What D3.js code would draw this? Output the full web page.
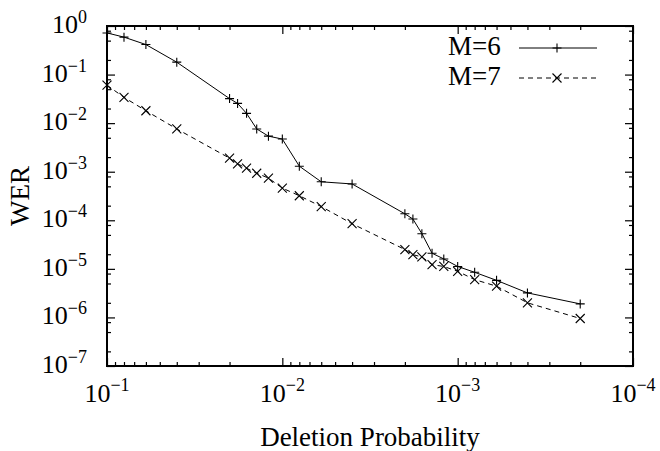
<!DOCTYPE html>
<meta charset="utf-8">
<style>
body { margin: 0; background: #fff; }
.tick line { stroke: #000; stroke-width: 1.2; }
</style>
<svg id="chart" width="660" height="451" font-family="'Liberation Serif', 'DejaVu Serif', serif"></svg>
<script src="https://cdn.jsdelivr.net/npm/d3@7"></script>
<script>

// deletion probabilities (shared by both series)
var prob = [0.1, 0.08, 0.06, 0.04, 0.02, 0.018, 0.016, 0.014, 0.012, 0.01, 0.008, 0.006,
            0.004, 0.002, 0.0018, 0.0016, 0.0014, 0.0012, 0.001, 0.0008, 0.0006, 0.0004, 0.0002];
var werM6 = [0.72, 0.59, 0.415, 0.18, 0.032, 0.0255, 0.0159, 0.0076, 0.0054, 0.0047, 0.0013, 0.00062,
             0.00056, 1.36e-4, 1.06e-4, 5.3e-5, 2.1e-5, 1.6e-5, 1.12e-5, 8.5e-6, 5.8e-6, 3.2e-6, 1.9e-6];
var werM7 = [0.0605, 0.034, 0.018, 0.0076, 0.0019, 0.00145, 0.00118, 9.3e-4, 7.4e-4, 4.6e-4, 3.2e-4, 1.92e-4,
             8.5e-5, 2.5e-5, 1.96e-5, 1.76e-5, 1.22e-5, 1.12e-5, 8.9e-6, 6e-6, 4.4e-6, 2e-6, 9.5e-7];
var seriesNames = ["M=6", "M=7"];

var xMajor = [1e-1, 1e-2, 1e-3, 1e-4];
var xExp = ["\u22121", "\u22122", "\u22123", "\u22124"];
var yMajor = [1, 1e-1, 1e-2, 1e-3, 1e-4, 1e-5, 1e-6, 1e-7];
var yExp = ["0", "\u22121", "\u22122", "\u22123", "\u22124", "\u22125", "\u22126", "\u22127"];

var margin = {top: 26, right: 27, bottom: 85, left: 107},
    width = 660 - margin.left - margin.right,
    height = 451 - margin.top - margin.bottom;

var svg = d3.select("#chart");
var g = svg.append("g").attr("transform", "translate(" + margin.left + "," + margin.top + ")");

var x = d3.scaleLog().domain([1e-1, 1e-4]).range([0, width]);
var y = d3.scaleLog().domain([1e-7, 1]).range([height, 0]);

// minor ticks
var xMinor = [], yMinor = [];
for (var e = -4; e < -1; e++) {
  for (var m = 2; m <= 9; m++) xMinor.push(m * Math.pow(10, e));
}
for (var e2 = -7; e2 < 0; e2++) {
  [2, 5, 8].forEach(function(m) { yMinor.push(m * Math.pow(10, e2)); });
}

function drawAxis(axisFn, scale, vals, size, tx, ty) {
  var a = g.append("g")
    .attr("transform", "translate(" + tx + "," + ty + ")")
    .call(axisFn(scale).tickValues(vals).tickSize(-size).tickFormat(""));
  a.select(".domain").remove();
}
drawAxis(d3.axisBottom, x, xMajor, 8, 0, height);
drawAxis(d3.axisBottom, x, xMinor, 4, 0, height);
drawAxis(d3.axisTop, x, xMajor, 8, 0, 0);
drawAxis(d3.axisTop, x, xMinor, 4, 0, 0);
drawAxis(d3.axisLeft, y, yMajor, 8, 0, 0);
drawAxis(d3.axisLeft, y, yMinor, 4, 0, 0);
drawAxis(d3.axisRight, y, yMajor, 8, width, 0);
drawAxis(d3.axisRight, y, yMinor, 4, width, 0);

g.append("rect")
  .attr("width", width).attr("height", height)
  .attr("fill", "none").attr("stroke", "#000").attr("stroke-width", 2);

// tick labels
var xl = g.selectAll(".xlab").data(xMajor).enter().append("text")
  .attr("class", "xlab")
  .attr("x", function(d) { return x(d); })
  .attr("y", height + 36)
  .attr("text-anchor", "middle")
  .style("font-size", "26px");
xl.append("tspan").text("10");
xl.append("tspan").attr("dy", -11).style("font-size", "18px").text(function(d, i) { return xExp[i]; });

var yl = g.selectAll(".ylab").data(yMajor).enter().append("text")
  .attr("class", "ylab")
  .attr("x", -20)
  .attr("y", function(d) { return y(d) + 7; })
  .attr("text-anchor", "end")
  .style("font-size", "26px");
yl.append("tspan").text("10");
yl.append("tspan").attr("dy", -10).style("font-size", "18px").text(function(d, i) { return yExp[i]; });

// axis titles
svg.append("text")
  .attr("x", margin.left + width / 2).attr("y", 446)
  .attr("text-anchor", "middle").style("font-size", "27px")
  .text("Deletion Probability");
svg.append("text")
  .attr("transform", "translate(29," + (margin.top + height / 2) + ") rotate(-90)")
  .attr("text-anchor", "middle").style("font-size", "27px")
  .text("WER");

// series
var series = [
  {name: seriesNames[0], values: werM6, dash: null, marker: "plus"},
  {name: seriesNames[1], values: werM7, dash: "5,4", marker: "cross"}
];

var line = d3.line()
  .x(function(d) { return x(d[0]); })
  .y(function(d) { return y(d[1]); });

function marker(sel, type) {
  var r = 4.5;
  var path = type === "plus"
    ? "M" + (-r) + ",0H" + r + "M0," + (-r) + "V" + r
    : "M" + (-r) + "," + (-r) + "L" + r + "," + r + "M" + (-r) + "," + r + "L" + r + "," + (-r);
  sel.append("path").attr("d", path).attr("stroke", "#000").attr("stroke-width", 1.1).attr("fill", "none");
}

series.forEach(function(s) {
  var pts = prob.map(function(p, i) { return [p, s.values[i]]; });
  g.append("path")
    .datum(pts)
    .attr("d", line)
    .attr("fill", "none")
    .attr("stroke", "#000")
    .attr("stroke-width", 1)
    .attr("stroke-dasharray", s.dash);
  g.selectAll(null).data(pts).enter().append("g")
    .attr("transform", function(d) { return "translate(" + x(d[0]) + "," + y(d[1]) + ")"; })
    .each(function() { marker(d3.select(this), s.marker); });
});

// legend
var leg = svg.append("g");
series.forEach(function(s, i) {
  var ly = 48 + i * 30;
  leg.append("text").attr("x", 448).attr("y", ly + 7).style("font-size", "27px").text(s.name);
  leg.append("line").attr("x1", 519).attr("x2", 597).attr("y1", ly).attr("y2", ly)
    .attr("stroke", "#000").attr("stroke-width", 1).attr("stroke-dasharray", s.dash);
  var mg = leg.append("g").attr("transform", "translate(557," + ly + ")");
  marker(mg, s.marker);
});

</script>
